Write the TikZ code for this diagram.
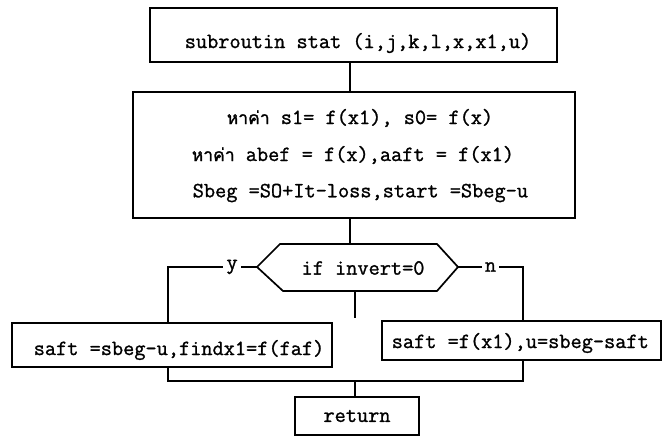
\documentclass[tikz,border=0pt]{standalone}
\usepackage{fontspec}
\newfontfamily\tw[FakeBold=1.2]{Latin Modern Mono}
\newfontfamily\thaifont[Script=Thai,FakeBold=1.5]{Loma}
\begin{document}
\begin{tikzpicture}[x=1pt,y=-1pt,
  line width=1.5pt,
  frame/.style={draw, line width=1.7pt, inner sep=0pt},
  txt/.style={inner sep=0pt, anchor=west, font=\tw\fontsize{21.7}{24}\selectfont},
  mid/.style={inner sep=0pt, font=\tw\fontsize{21.7}{24}\selectfont},
  tag/.style={fill=white, inner sep=3pt, font=\tw\fontsize{21.7}{24}\selectfont}]
\newcommand{\tha}{{\thaifont\fontsize{17.5}{20}\selectfont หาค่า}}
\useasboundingbox (0,0) rectangle (663,438);

% subroutine header
\node[frame, minimum width=407pt, minimum height=54pt] (sub) at (353.5,35) {};
\node[mid] (subtxt) at (358,43) {subroutin stat (i,j,k,l,x,x1,u)};

% computation block
\node[frame, minimum width=442pt, minimum height=126pt] (calc) at (354,155) {};
\node[txt] (c1) at (226,118) {\tha\ s1= f(x1), s0= f(x)};
\node[txt] (c2) at (191,155) {\tha\ abef = f(x),aaft = f(x1)};
\node[txt] (c3) at (192,193) {Sbeg =SO+It-loss,start =Sbeg-u};

% decision
\coordinate (hl) at (257,267);
\coordinate (hr) at (458,267);
\coordinate (ht) at (350,244);
\coordinate (hb) at (355,291);
\draw[line width=1.7pt] (hl) -- (280,244) -- (437,244) -- (hr) -- (437,291) -- (283,291) -- cycle;
\node[mid] (cond) at (363,268) {if invert=0};

% branch boxes
\node[frame, minimum width=320pt, minimum height=44pt] (yes) at (172,345) {};
\node[txt] (yestxt) at (33,350) {saft =sbeg-u,findx1=f(faf)};
\node[frame, minimum width=279pt, minimum height=39pt] (no) at (521.5,340.5) {};
\node[txt] (notxt) at (391,343) {saft =f(x1),u=sbeg-saft};

% return
\node[frame, minimum width=124pt, minimum height=38pt, font=\tw\fontsize{21.7}{24}\selectfont] (ret) at (357,416) {return};

\coordinate (dangle) at (355,318);
\coordinate (join) at (355,381);

% connectors
\draw (sub.south -| ht) -- (calc.north -| ht);
\draw (calc.south -| ht) -- (ht);
\draw (hl) -- node[tag, pos=0.28] {y} (hl -| 168,0) -- (yes.north -| 168,0);
\draw (hr) -- node[tag, pos=0.5] {n} (hr -| 523,0) -- (no.north -| 523,0);
\draw (hb) -- (dangle);
\draw (yes.south -| 168,0) -- (168,381) -- (523,381) -- (no.south -| 523,0);
\draw (join) -- (ret.north -| join);
\end{tikzpicture}
\end{document}
